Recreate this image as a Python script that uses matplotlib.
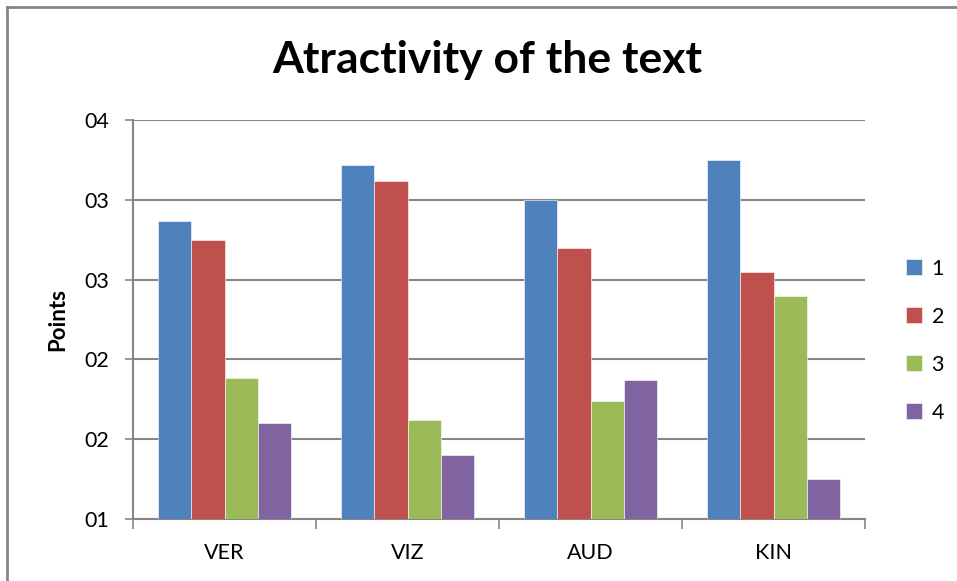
import matplotlib.pyplot as plt
import numpy as np
from matplotlib.lines import Line2D

categories = ['VER', 'VIZ', 'AUD', 'KIN']
series_names = ['1', '2', '3', '4']
s1 = [2.87, 3.22, 3.00, 3.25]
s2 = [2.75, 3.12, 2.70, 2.55]
s3 = [1.885, 1.62, 1.74, 2.40]
s4 = [1.60, 1.40, 1.87, 1.25]
yticks = [1.0, 1.5, 2.0, 2.5, 3.0, 3.5]
ytick_labels = ['01', '02', '02', '03', '03', '04']
colors = ['#4f81bd', '#c0504d', '#9bbb59', '#8064a2']

plt.rcParams['font.family'] = ['Lato', 'DejaVu Sans']

fig = plt.figure(figsize=(9.57, 5.81), dpi=100)
ax = fig.add_axes([133/957, 1 - 519/581, 732/957, 399/581])

x = np.arange(len(categories))
w = 0.182
for i, (vals, name) in enumerate(zip([s1, s2, s3, s4], series_names)):
    ax.bar(x + (i - 1.5) * w, np.array(vals) - 1.0, w, bottom=1.0,
           color=colors[i], label=name, zorder=3,
           edgecolor='white', linewidth=0.4)

ax.set_xlim(-0.5, 3.5)
ax.set_ylim(1.0, 3.5)
ax.set_yticks(yticks)
ax.set_yticklabels(ytick_labels, fontsize=15.5)
ax.set_xticks(x)
ax.set_xticklabels(categories, fontsize=15.5)
ax.set_xticks([-0.5, 0.5, 1.5, 2.5, 3.5], minor=True)
ax.tick_params(axis='x', which='major', length=0, pad=17)
ax.tick_params(axis='x', which='minor', length=7, width=1.2, color='#868686')
ax.tick_params(axis='y', length=6, width=1.2, color='#868686', pad=11)
ax.grid(axis='y', color='#868686', linewidth=1.5, zorder=0)
for side in ['top', 'right']:
    ax.spines[side].set_visible(False)
for side in ['left', 'bottom']:
    ax.spines[side].set_color('#868686')
    ax.spines[side].set_linewidth(1.5)

ax.set_ylabel('Points', fontsize=16, fontweight='bold')
ax.yaxis.set_label_coords(-0.088, 0.5)
fig.text(487/957, 1 - 60/581, 'Atractivity of the text', ha='center', va='center',
         fontsize=32, fontweight='bold')

ax.legend(loc='center left', bbox_to_anchor=(1.030, 0.447), frameon=False,
          fontsize=15.5, handlelength=0.72, handleheight=0.72, labelspacing=1.3,
          handletextpad=0.45)

# chart border (top and left edges visible)
fig.add_artist(Line2D([7/957, 1], [1 - 7/581, 1 - 7/581], transform=fig.transFigure,
                      color='#868686', linewidth=2))
fig.add_artist(Line2D([7/957, 7/957], [0, 1 - 7/581], transform=fig.transFigure,
                      color='#868686', linewidth=2))

fig.savefig('out.png', dpi=100)
